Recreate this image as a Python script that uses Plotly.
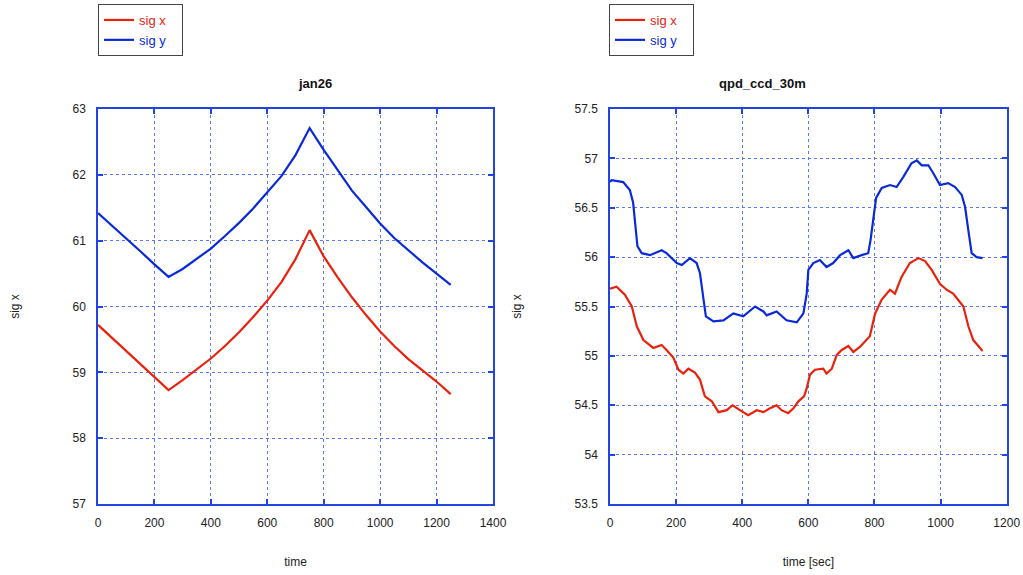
import plotly.graph_objects as go

# ---------------- data: left panel "jan26" ----------------
t_left = [0, 50, 100, 150, 200, 250, 300, 350, 400, 450, 500, 550, 600, 650,
          700, 750, 800, 850, 900, 950, 1000, 1050, 1100, 1150, 1200, 1250]
left_sig_x = [59.72, 59.52, 59.32, 59.12, 58.92, 58.73, 58.88, 59.04, 59.21, 59.40,
              59.61, 59.84, 60.09, 60.37, 60.72, 61.16, 60.76, 60.44, 60.14, 59.87,
              59.62, 59.40, 59.20, 59.03, 58.86, 58.67]
left_sig_y = [61.42, 61.23, 61.04, 60.84, 60.64, 60.45, 60.57, 60.72, 60.88, 61.07,
              61.27, 61.49, 61.73, 61.98, 62.30, 62.71, 62.38, 62.06, 61.76, 61.51,
              61.26, 61.04, 60.85, 60.67, 60.50, 60.33]

# ---------------- data: right panel "qpd_ccd_30m" ----------------
t_right_x = [0, 20, 45, 66, 81, 101, 131, 156, 171, 192, 207, 222, 237, 257, 272,
             287, 308, 328, 353, 371, 393, 418, 444, 464, 484, 504, 519, 539, 555,
             570, 587, 595, 605, 620, 645, 655, 671, 686, 701, 721, 736, 756, 786,
             802, 822, 847, 862, 882, 907, 933, 953, 973, 998, 1018, 1038, 1069,
             1084, 1099, 1127]
right_sig_x = [55.68, 55.70, 55.62, 55.50, 55.30, 55.16, 55.08, 55.11, 55.06, 54.98,
               54.86, 54.82, 54.87, 54.83, 54.76, 54.59, 54.54, 54.43, 54.45, 54.50,
               54.45, 54.40, 54.45, 54.43, 54.47, 54.50, 54.45, 54.42, 54.47, 54.54,
               54.59, 54.67, 54.81, 54.86, 54.87, 54.82, 54.87, 55.01, 55.06, 55.10,
               55.04, 55.09, 55.20, 55.43, 55.57, 55.67, 55.63, 55.80, 55.94, 55.99,
               55.96, 55.87, 55.73, 55.67, 55.63, 55.50, 55.30, 55.16, 55.05]

t_right_y = [0, 5, 40, 60, 70, 76, 83, 96, 121, 156, 171, 202, 217, 242, 262, 272,
             282, 290, 313, 343, 373, 403, 439, 464, 474, 504, 534, 565, 585, 595,
             600, 615, 635, 655, 675, 696, 721, 736, 761, 781, 788, 797, 805, 822,
             847, 867, 887, 912, 928, 943, 963, 978, 998, 1023, 1044, 1064, 1074,
             1084, 1094, 1109, 1127]
right_sig_y = [56.76, 56.78, 56.76, 56.68, 56.55, 56.34, 56.11, 56.04, 56.02, 56.07,
               56.04, 55.94, 55.92, 55.99, 55.94, 55.84, 55.60, 55.40, 55.35, 55.36,
               55.43, 55.40, 55.50, 55.45, 55.41, 55.45, 55.36, 55.34, 55.43, 55.63,
               55.87, 55.94, 55.97, 55.90, 55.94, 56.02, 56.07, 55.99, 56.02, 56.04,
               56.17, 56.41, 56.60, 56.70, 56.73, 56.71, 56.81, 56.95, 56.98, 56.93,
               56.93, 56.85, 56.73, 56.75, 56.71, 56.63, 56.51, 56.27, 56.04, 56.00,
               55.99]

series_names = ["sig x", "sig y"]
titles = ["jan26", "qpd_ccd_30m"]
x_titles = ["time", "time [sec]"]
y_title = "sig x"

RED = "#e8220c"
BLUE = "#0a2ad8"
AXIS = "#2244e0"
GRID = "#5a78f2"
FONT = "Liberation Sans, Arial, sans-serif"

W, H = 1023, 575

fig = go.Figure()

def legend_name(name, color):
    return f"<span style='color:{color}'>{name}</span>&nbsp;&nbsp;&nbsp;"

fig.add_trace(go.Scatter(x=t_left, y=left_sig_x, mode="lines", name=legend_name(series_names[0], RED),
                         line=dict(color=RED, width=2.2), xaxis="x", yaxis="y", legend="legend"))
fig.add_trace(go.Scatter(x=t_left, y=left_sig_y, mode="lines", name=legend_name(series_names[1], BLUE),
                         line=dict(color=BLUE, width=2.2), xaxis="x", yaxis="y", legend="legend"))
fig.add_trace(go.Scatter(x=t_right_x, y=right_sig_x, mode="lines", name=legend_name(series_names[0], RED),
                         line=dict(color=RED, width=2.2), xaxis="x2", yaxis="y2", legend="legend2"))
fig.add_trace(go.Scatter(x=t_right_y, y=right_sig_y, mode="lines", name=legend_name(series_names[1], BLUE),
                         line=dict(color=BLUE, width=2.2), xaxis="x2", yaxis="y2", legend="legend2"))

ydom = [1 - 504 / H, 1 - 109 / H]
xdom1 = [98 / W, 493 / W]
xdom2 = [610 / W, 1006.7 / W]

def xaxis(dom, rng, title, anchor):
    return dict(domain=dom, range=rng, dtick=200, anchor=anchor,
                showline=True, mirror="ticks", linecolor=AXIS, linewidth=1.5,
                ticks="inside", ticklen=5, tickcolor=AXIS, tickwidth=1.5,
                showgrid=True, gridcolor=GRID, griddash="dot", gridwidth=1,
                zeroline=False, automargin=False,
                tickfont=dict(family=FONT, size=12, color="#222"),
                ticklabelstandoff=7,
                title=dict(text=title, font=dict(family=FONT, size=12, color="#222"), standoff=28))

def yaxis(dom, rng, dt, anchor):
    return dict(domain=dom, range=rng, dtick=dt, anchor=anchor,
                showline=True, mirror="ticks", linecolor=AXIS, linewidth=1.5,
                ticks="inside", ticklen=5, tickcolor=AXIS, tickwidth=1.5,
                showgrid=True, gridcolor=GRID, griddash="dot", gridwidth=1,
                zeroline=False, automargin=False,
                tickfont=dict(family=FONT, size=12, color="#222"),
                ticklabelstandoff=8,
                title=dict(text=y_title, font=dict(family=FONT, size=12, color="#222"), standoff=50))

def legend_cfg(xpx):
    return dict(x=xpx / W, y=1 - 4 / H, xanchor="left", yanchor="top",
                bgcolor="white", bordercolor="#444", borderwidth=1,
                font=dict(family=FONT, size=13), itemwidth=30,
                tracegroupgap=0)

fig.update_layout(
    width=W, height=H,
    margin=dict(l=0, r=0, t=0, b=0),
    paper_bgcolor="white", plot_bgcolor="white",
    font=dict(family=FONT, size=12, color="#222"),
    showlegend=True,
    xaxis=xaxis(xdom1, [0, 1400], x_titles[0], "y"),
    yaxis=yaxis(ydom, [57, 63], 1, "x"),
    xaxis2=xaxis(xdom2, [0, 1200], x_titles[1], "y2"),
    yaxis2=yaxis(ydom, [53.5, 57.5], 0.5, "x2"),
    legend=legend_cfg(98),
    legend2=legend_cfg(609),
    annotations=[
        dict(text=f"<b>{titles[0]}</b>", x=(xdom1[0] + xdom1[1]) / 2, y=1 - 84 / H,
             xref="paper", yref="paper", showarrow=False, yanchor="middle",
             font=dict(family=FONT, size=13, color="#111")),
        dict(text=f"<b>{titles[1]}</b>", x=(xdom2[0] + xdom2[1]) / 2, y=1 - 84 / H,
             xref="paper", yref="paper", showarrow=False, yanchor="middle",
             font=dict(family=FONT, size=13, color="#111")),
    ],
)

fig.write_html("out.html",
               config={"displayModeBar": False},
               post_script="document.body.style.margin='0';document.body.style.overflow='hidden';")
